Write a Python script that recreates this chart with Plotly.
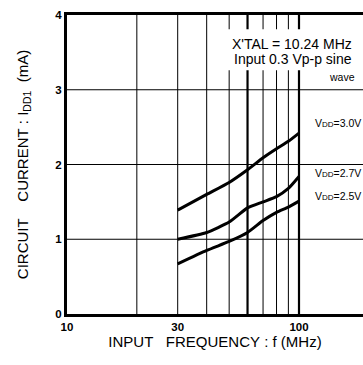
import plotly.graph_objects as go

freq = [30, 40, 50, 60, 70, 80, 90, 100]
idd_30 = [1.39, 1.60, 1.76, 1.93, 2.09, 2.21, 2.31, 2.42]
idd_27 = [1.00, 1.09, 1.23, 1.42, 1.50, 1.57, 1.68, 1.84]
idd_25 = [0.67, 0.85, 0.97, 1.09, 1.25, 1.36, 1.43, 1.51]
series_labels = ["V<span style='font-size:8px'>DD</span>=3.0V",
                 "V<span style='font-size:8px'>DD</span>=2.7V",
                 "V<span style='font-size:8px'>DD</span>=2.5V"]
label_y = [2.55, 1.89, 1.58]
note_lines = ["X'TAL = 10.24 MHz", "Input 0.3 Vp-p sine", "wave"]
x_ticks = [10, 30, 100]
y_ticks = [0, 1, 2, 3, 4]
vgrid = [20, 30, 40, 50, 60, 70, 80, 90, 100]
vgrid_w = [1, 1, 1, 1, 2.2, 1, 1, 1, 2.2]
hgrid = [1, 2, 3]

FONT = "Liberation Sans, Arial, sans-serif"
NB = "\u00a0"
fig = go.Figure()
for v, w in zip(vgrid, vgrid_w):
    fig.add_trace(go.Scatter(x=[v, v], y=[0, 4], mode="lines",
                             line=dict(color="black", width=w),
                             showlegend=False, hoverinfo="skip"))
for h in hgrid:
    fig.add_trace(go.Scatter(x=[10, 200], y=[h, h], mode="lines",
                             line=dict(color="black", width=1.2),
                             showlegend=False, hoverinfo="skip"))
for ys in [idd_30, idd_27, idd_25]:
    fig.add_trace(go.Scatter(x=freq, y=ys, mode="lines",
                             line=dict(color="black", width=3, shape="spline", smoothing=0.5),
                             showlegend=False, hoverinfo="skip"))

# white patch behind the note text (covers grid lines, like the original)
fig.add_shape(type="rect", xref="paper", yref="paper", x0=0.52, x1=1.0, y0=0.815, y1=0.952,
              fillcolor="white", line=dict(width=0), layer="above")

annotations = []
for lab, ly in zip(series_labels, label_y):
    annotations.append(dict(x=1, xref="paper", y=ly, yref="y", text=lab, showarrow=False,
                            xanchor="right", yanchor="middle", bgcolor="white",
                            font=dict(family=FONT, size=10.5, color="black")))
annotations.append(dict(x=0.968, xref="paper", y=3.61, yref="y", text=note_lines[0],
                        showarrow=False, xanchor="right", yanchor="middle",
                        font=dict(family=FONT, size=14, color="black")))
annotations.append(dict(x=0.968, xref="paper", y=3.41, yref="y", text=note_lines[1],
                        showarrow=False, xanchor="right", yanchor="middle",
                        font=dict(family=FONT, size=14, color="black")))
annotations.append(dict(x=0.98, xref="paper", y=3.17, yref="y", text=note_lines[2],
                        showarrow=False, xanchor="right", yanchor="middle", bgcolor="white",
                        font=dict(family=FONT, size=10.5, color="black")))

fig.update_layout(
    width=363, height=365, margin=dict(l=67, r=0, t=15, b=51),
    paper_bgcolor="white", plot_bgcolor="white",
    annotations=annotations,
    font=dict(family=FONT, color="black"),
    xaxis=dict(type="log", range=[1, 1 + 296 / 232], tickvals=x_ticks,
               ticktext=["<b>%d</b>" % t for t in x_ticks], showgrid=False, zeroline=False,
               showline=True, linecolor="black", linewidth=3, mirror=True, ticks="",
               tickfont=dict(family=FONT, size=11.5, color="black"),
               title=dict(text="INPUT" + NB * 3 + "FREQUENCY" + NB + ":" + NB + "f" + NB + "(MHz)",
                          font=dict(family=FONT, size=15, color="black"), standoff=5)),
    yaxis=dict(range=[0, 4], tickvals=y_ticks, ticktext=["<b>%d</b>" % t for t in y_ticks],
               showgrid=False, zeroline=False,
               showline=True, linecolor="black", linewidth=3, ticks="",
               tickfont=dict(family=FONT, size=11.5, color="black"),
               title=dict(text="CIRCUIT" + NB * 4 + "CURRENT" + NB + ":" + NB + "I<sub>DD1</sub>" + NB * 2 + "(mA)",
                          font=dict(family=FONT, size=15, color="black"), standoff=24)),
)
fig.write_html("out.html")
